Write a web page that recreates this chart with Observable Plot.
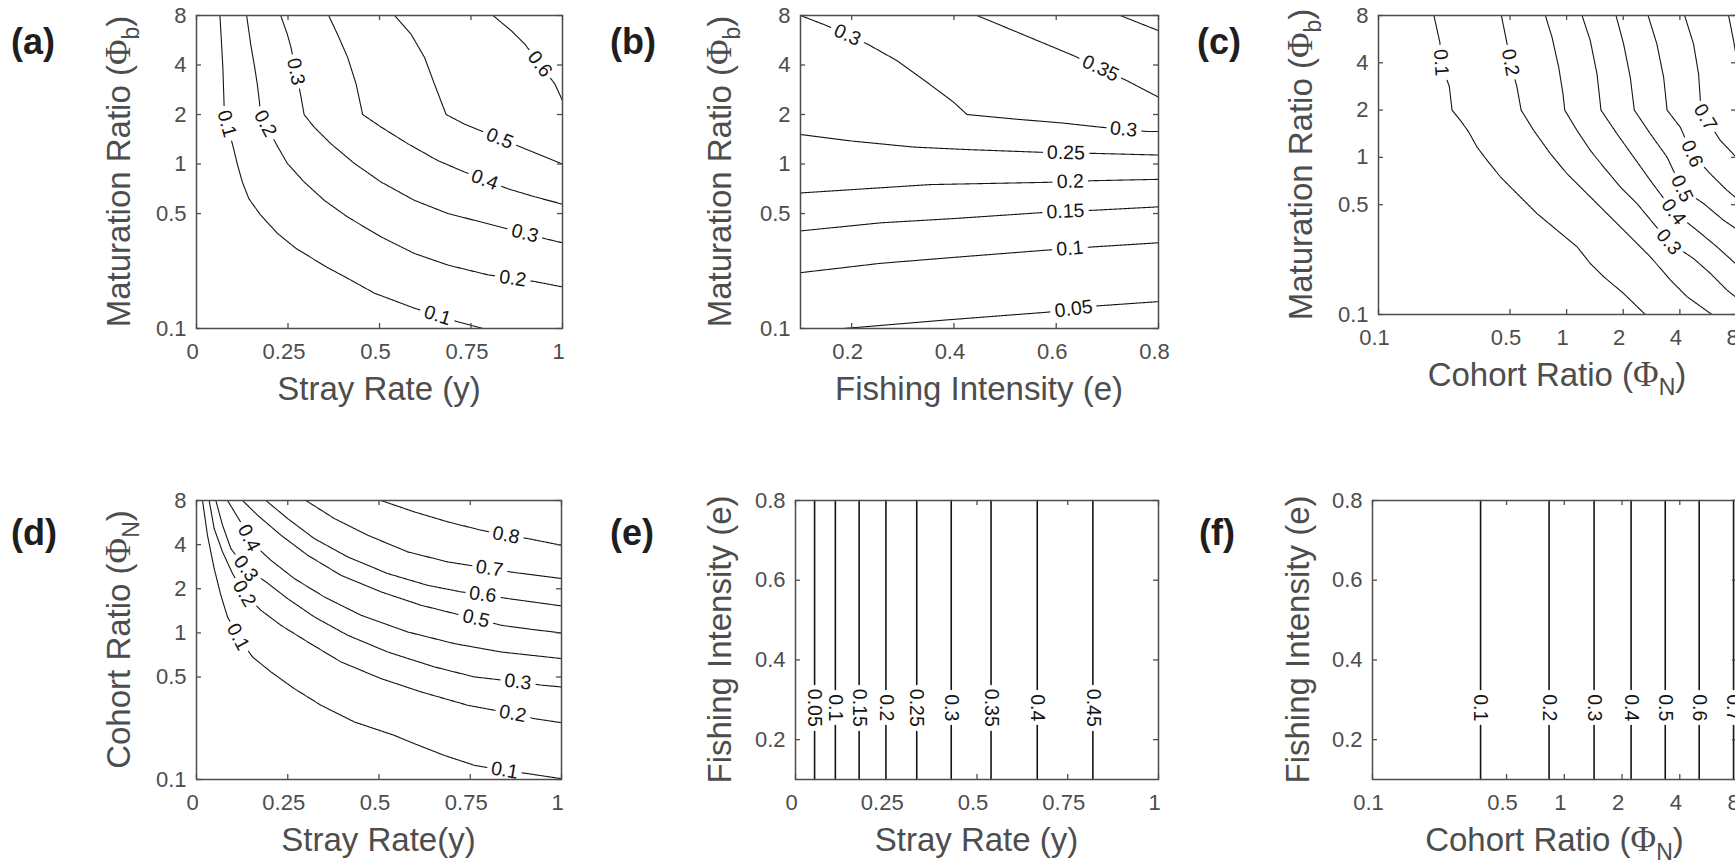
<!DOCTYPE html>
<html><head><meta charset="utf-8">
<script src="https://cdn.jsdelivr.net/npm/d3@7"></script>
<script src="https://cdn.jsdelivr.net/npm/@observablehq/plot@0.6"></script>
<style>
html,body{margin:0;padding:0;background:#fff;overflow:hidden;width:1735px;height:867px;}
#root{position:relative;width:1735px;height:867px;overflow:hidden;}
.panel{position:absolute;}
.panel svg{max-width:none !important;}
</style></head><body><div id="root"></div>
<script>
// ---------- DATA ----------
const logTicks = [0.1, 0.5, 1, 2, 4, 8];
const strayTicks = [0, 0.25, 0.5, 0.75, 1];
const fishTicksB = [0.2, 0.4, 0.6, 0.8];
const fishTicksEF = [0.2, 0.4, 0.6, 0.8];

// (a) Stray rate (x) vs maturation ratio (y)
const contoursA = [
  {level: 0.1, points: [[0.064,8],[0.068,5.62],[0.072,3.87],[0.075,2.43],[0.076,2],[0.0995,1.29],[0.111,1.01],[0.125,0.78],[0.143,0.616],[0.175,0.49],[0.221,0.379],[0.271,0.308],[0.353,0.238],[0.404,0.207],[0.486,0.164],[0.595,0.133],[0.719,0.109],[0.783,0.1]]},
  {level: 0.2, points: [[0.137,8],[0.148,5.36],[0.159,3.87],[0.166,3.07],[0.172,2.38],[0.175,2],[0.218,1.32],[0.248,1.01],[0.294,0.778],[0.349,0.602],[0.413,0.476],[0.504,0.361],[0.595,0.286],[0.687,0.243],[0.796,0.212],[0.924,0.193],[1,0.179]]},
  {level: 0.3, points: [[0.230,8],[0.248,6.17],[0.258,5.13],[0.285,2.60],[0.294,2],[0.321,1.68],[0.367,1.33],[0.431,1.01],[0.504,0.778],[0.595,0.602],[0.687,0.5],[0.778,0.444],[0.961,0.348],[1,0.332]]},
  {level: 0.4, points: [[0.361,8],[0.385,6.17],[0.413,4.45],[0.436,3.07],[0.454,2],[0.504,1.68],[0.577,1.33],[0.659,1.05],[0.732,0.895],[0.851,0.707],[0.924,0.632],[1,0.57]]},
  {level: 0.5, points: [[0.541,8],[0.586,6.17],[0.623,4.45],[0.650,3.07],[0.682,2],[0.732,1.75],[0.897,1.24],[1,1.0]]},
  {level: 0.6, points: [[0.810,8],[0.860,6.47],[0.897,5.36],[0.979,3.07],[1,2.43]]}
];
const labelsA = [
  {level: 0.1, x: 0.08, y: 1.75}, {level: 0.1, x: 0.658, y: 0.119},
  {level: 0.2, x: 0.183, y: 1.74}, {level: 0.2, x: 0.865, y: 0.207},
  {level: 0.3, x: 0.262, y: 3.61}, {level: 0.3, x: 0.897, y: 0.375},
  {level: 0.4, x: 0.787, y: 0.796}, {level: 0.5, x: 0.828, y: 1.42},
  {level: 0.6, x: 0.932, y: 3.96}
];

// (b) Fishing intensity (x) vs maturation ratio (y)
const contoursB = [
  {level: 0.05, points: [[0.1847,0.1],[0.3865,0.1128],[0.5819,0.1256],[0.6795,0.1372],[0.8,0.1457]]},
  {level: 0.1, points: [[0.1,0.2185],[0.2563,0.249],[0.3995,0.2706],[0.5819,0.2997],[0.676,0.314],[0.8,0.332]]},
  {level: 0.15, points: [[0.1,0.392],[0.2563,0.439],[0.3995,0.466],[0.5819,0.509],[0.676,0.524],[0.8,0.549]]},
  {level: 0.2, points: [[0.1,0.667],[0.354,0.75],[0.5819,0.774],[0.673,0.792],[0.8,0.807]]},
  {level: 0.25, points: [[0.1,1.512],[0.201,1.379],[0.3214,1.268],[0.419,1.227],[0.5753,1.177],[0.673,1.161],[0.8,1.134]]},
  {level: 0.3, points: [[0.1,8],[0.152,6.93],[0.2335,5.31],[0.2888,4.25],[0.3474,3.14],[0.3995,2.375],[0.4256,2],[0.5167,1.88],[0.6144,1.773],[0.686,1.676],[0.777,1.578],[0.8,1.578]]},
  {level: 0.35, points: [[0.4451,8],[0.5167,6.47],[0.634,4.56],[0.738,3.215],[0.8,2.55]]},
  {level: 0.4, points: [[0.7251,8],[0.8,6.47]]}
];
const labelsB = [
  {level: 0.05, x: 0.634, y: 0.131}, {level: 0.1, x: 0.627, y: 0.30},
  {level: 0.15, x: 0.618, y: 0.512}, {level: 0.2, x: 0.6275, y: 0.774},
  {level: 0.25, x: 0.619, y: 1.157}, {level: 0.3, x: 0.191, y: 6.02},
  {level: 0.3, x: 0.7316, y: 1.6}, {level: 0.35, x: 0.686, y: 3.78}
];

// (c) Cohort ratio (x) vs maturation ratio (y)
const contoursC = [
  {level: 0.1, points: [[0.197,8],[0.212,5.39],[0.215,4.0],[0.238,2.82],[0.246,2],[0.273,1.716],[0.302,1.447],[0.334,1.163],[0.378,0.957],[0.445,0.75],[0.545,0.588],[0.696,0.439],[0.889,0.344],[1.136,0.27],[1.337,0.211],[1.574,0.174],[2.01,0.136],[2.62,0.1]]},
  {level: 0.2, points: [[0.45,8],[0.479,5.52],[0.503,4.02],[0.545,2.79],[0.573,2],[0.669,1.483],[0.82,1.055],[1.005,0.787],[1.233,0.617],[1.574,0.461],[2.094,0.328],[2.786,0.233],[3.558,0.166],[4.36,0.13],[5.92,0.1]]},
  {level: 0.3, points: [[0.771,8],[0.837,5.80],[0.908,3.74],[0.957,2.53],[0.977,2],[1.136,1.483],[1.337,1.107],[1.574,0.868],[1.93,0.648],[2.367,0.508],[2.90,0.379],[3.49,0.29],[4.73,0.227],[5.80,0.183],[7.12,0.143],[8,0.128]]},
  {level: 0.4, points: [[1.208,8],[1.337,5.52],[1.451,3.39],[1.523,2],[1.853,1.413],[2.272,1.004],[2.786,0.714],[3.706,0.45],[4.93,0.344],[6.29,0.27],[8,0.208]]},
  {level: 0.5, points: [[1.83,8],[2.01,5.26],[2.18,3.23],[2.29,2],[2.786,1.413],[3.42,1.004],[4.10,0.632],[5.35,0.508],[6.83,0.398],[8,0.35]]},
  {level: 0.6, points: [[2.71,8],[3.02,5.26],[3.28,3.23],[3.42,2],[4.02,1.557],[4.64,1.055],[5.80,0.787],[7.12,0.617],[8,0.55]]},
  {level: 0.7, points: [[4.24,8],[4.73,5.26],[5.03,3.39],[5.18,2],[5.46,1.80],[6.56,1.282],[8,1.0]]},
  {level: 0.8, points: [[7.26,8],[7.72,5.52],[8,4.3]]}
];
const labelsC = [
  {level: 0.1, x: 0.215, y: 4.0}, {level: 0.2, x: 0.503, y: 4.02},
  {level: 0.3, x: 3.49, y: 0.29}, {level: 0.4, x: 3.706, y: 0.45},
  {level: 0.5, x: 4.10, y: 0.632}, {level: 0.6, x: 4.64, y: 1.055},
  {level: 0.7, x: 5.46, y: 1.80}
];

// (d) Stray rate (x) vs cohort ratio (y)
const contoursD = [
  {level: 0.1, points: [[0.0165,8],[0.030,4.64],[0.0484,2.75],[0.0667,1.806],[0.085,1.286],[0.114,0.939],[0.1536,0.685],[0.2038,0.542],[0.2678,0.417],[0.341,0.321],[0.4324,0.247],[0.542,0.2],[0.597,0.1755],[0.679,0.146],[0.761,0.125],[0.844,0.1154],[0.908,0.1096],[1,0.1013]]},
  {level: 0.2, points: [[0.0347,8],[0.0484,5.15],[0.0713,3.57],[0.0987,2.54],[0.1307,1.855],[0.1764,1.427],[0.2313,1.127],[0.3044,0.868],[0.3958,0.634],[0.5055,0.488],[0.6152,0.396],[0.7431,0.321],[0.8665,0.281],[0.9259,0.26],[1,0.244]]},
  {level: 0.3, points: [[0.053,8],[0.0713,5.43],[0.0941,3.76],[0.1353,2.75],[0.1901,2.23],[0.2495,1.715],[0.3227,1.286],[0.4141,0.964],[0.5238,0.741],[0.6517,0.586],[0.7614,0.501],[0.8803,0.463],[0.9488,0.439],[1,0.428]]},
  {level: 0.4, points: [[0.085,8],[0.1261,5.43],[0.149,4.18],[0.2038,3.13],[0.2678,2.35],[0.3501,1.76],[0.4506,1.32],[0.5786,1.015],[0.7066,0.845],[0.8346,0.741],[1,0.668]]},
  {level: 0.5, points: [[0.1261,8],[0.1673,6.35],[0.2313,4.64],[0.3044,3.39],[0.3958,2.47],[0.5055,1.905],[0.6152,1.544],[0.7066,1.355],[0.766,1.252],[0.8346,1.127],[0.9168,1.058],[1,1.0]]},
  {level: 0.6, points: [[0.1901,8],[0.2495,6.03],[0.3227,4.40],[0.4141,3.30],[0.5238,2.54],[0.6335,2.11],[0.7249,1.905],[0.7843,1.826],[0.8528,1.715],[1,1.528]]},
  {level: 0.7, points: [[0.2998,8],[0.3775,6.03],[0.4689,4.64],[0.5786,3.57],[0.6883,3.05],[0.8026,2.75],[0.8711,2.58],[1,2.35]]},
  {level: 0.8, points: [[0.5055,8],[0.5969,6.69],[0.6883,5.72],[0.7797,5.02],[0.8483,4.64],[0.9077,4.40],[1,3.96]]}
];
const labelsD = [
  {level: 0.1, x: 0.114, y: 0.939}, {level: 0.1, x: 0.844, y: 0.1154},
  {level: 0.2, x: 0.1307, y: 1.855}, {level: 0.2, x: 0.8665, y: 0.281},
  {level: 0.3, x: 0.1353, y: 2.75}, {level: 0.3, x: 0.8803, y: 0.463},
  {level: 0.4, x: 0.14, y: 4.4}, {level: 0.5, x: 0.766, y: 1.252},
  {level: 0.6, x: 0.7843, y: 1.826}, {level: 0.7, x: 0.8026, y: 2.75},
  {level: 0.8, x: 0.8483, y: 4.64}
];

// (e) Stray rate (x) vs fishing intensity (y): vertical contours
const levelsE = [0.05, 0.1, 0.15, 0.2, 0.25, 0.3, 0.35, 0.4, 0.45];
const strayE = [0.0526, 0.1098, 0.1753, 0.2491, 0.334, 0.429, 0.5387, 0.666, 0.8192];
// (f) Cohort ratio (x) vs fishing intensity (y): vertical contours
const levelsF = [0.1, 0.2, 0.3, 0.4, 0.5, 0.6, 0.7];
const cohortF = [0.366, 0.833, 1.43, 2.23, 3.36, 5.05, 7.63];
const labelFishing = 0.28; // fishing intensity where the labels of (e) and (f) sit

// ---------- LAYOUT ----------
const FONT = "'Liberation Sans', Arial, Helvetica, sans-serif";
const GREY = "#4d4d4d";
const root = document.getElementById("root");

function textWidth(s, fs) {
  let w = 0;
  for (const ch of s) w += (ch === "." ? 0.278 : 0.556);
  return w * fs;
}

function panel(box, xType, xDomain, yType, yDomain, xTicks, yTicks, contours, labels, lineWidth) {
  const mL = 70, mR = 12, mT = 12, mB = 45;
  const W = box.right - box.left, H = box.bottom - box.top;
  const width = W + mL + mR, height = H + mT + mB;
  const xs = (xType === "log" ? d3.scaleLog() : d3.scaleLinear()).domain(xDomain).range([mL, mL + W]);
  const ys = (yType === "log" ? d3.scaleLog() : d3.scaleLinear()).domain(yDomain).range([mT + H, mT]);
  const LFS = 19.5;

  // snap labels to their contour, derive angle from the local direction of the contour
  const labelRows = labels.map(l => {
    const px = xs(l.x), py = ys(l.y);
    let best = Infinity, ang = 0, sx = px, sy = py;
    contours.filter(c => c.level === l.level).forEach(c => {
      for (let k = 0; k < c.points.length - 1; k++) {
        const ax = xs(c.points[k][0]), ay = ys(c.points[k][1]);
        const bx = xs(c.points[k + 1][0]), by = ys(c.points[k + 1][1]);
        const dx = bx - ax, dy = by - ay, L2 = dx * dx + dy * dy;
        let t = L2 ? ((px - ax) * dx + (py - ay) * dy) / L2 : 0;
        t = Math.max(0, Math.min(1, t));
        const qx = ax + t * dx, qy = ay + t * dy, dist = Math.hypot(px - qx, py - qy);
        if (dist < best) {
          best = dist; sx = qx; sy = qy;
          let a = Math.atan2(dy, dx) * 180 / Math.PI;
          if (a > 90) a -= 180;
          if (a <= -90) a += 180;
          ang = a;
        }
      }
    });
    const text = String(l.level);
    return {level: l.level, text, px: sx, py: sy, x: xs.invert(sx), y: ys.invert(sy), angle: ang, r: textWidth(text, LFS) / 2 + 4};
  });

  // break the contour lines where their labels sit
  const rows = []; let id = 0;
  contours.forEach(c => {
    const cs = labelRows.filter(k => k.level === c.level);
    let run = [];
    const flush = () => {
      if (run.length > 1) { run.forEach(p => rows.push({id, x: xs.invert(p[0]), y: ys.invert(p[1])})); id++; }
      run = [];
    };
    const P = c.points.map(([x, y]) => [xs(x), ys(y)]);
    for (let k = 0; k < P.length - 1; k++) {
      const [ax, ay] = P[k], [bx, by] = P[k + 1];
      const n = Math.max(1, Math.ceil(Math.hypot(bx - ax, by - ay)));
      for (let s = (k === 0 ? 0 : 1); s <= n; s++) {
        const t = s / n, qx = ax + t * (bx - ax), qy = ay + t * (by - ay);
        if (cs.some(q => Math.hypot(qx - q.px, qy - q.py) < q.r)) flush();
        else run.push([qx, qy]);
      }
    }
    flush();
  });

  const plot = Plot.plot({
    width, height, marginLeft: mL, marginRight: mR, marginTop: mT, marginBottom: mB,
    style: {fontFamily: FONT, background: "transparent", overflow: "visible", maxWidth: "none"},
    x: {type: xType, domain: xDomain, axis: null},
    y: {type: yType, domain: yDomain, axis: null},
    marks: [
      Plot.line(rows, {x: "x", y: "y", z: "id", stroke: "#151515", strokeWidth: lineWidth}),
      Plot.text(labelRows, {x: "x", y: "y", text: "text", rotate: "angle", fontSize: LFS, fill: "#151515", fontFamily: FONT}),
      Plot.frame({stroke: GREY, strokeWidth: 1.5}),
      Plot.tickX(xTicks, {x: d => d, insetTop: H - 5, stroke: GREY, strokeWidth: 1.3}),
      Plot.tickX(xTicks, {x: d => d, insetBottom: H - 5, stroke: GREY, strokeWidth: 1.3}),
      Plot.tickY(yTicks, {y: d => d, insetRight: W - 5, stroke: GREY, strokeWidth: 1.3}),
      Plot.tickY(yTicks, {y: d => d, insetLeft: W - 5, stroke: GREY, strokeWidth: 1.3}),
      Plot.text(xTicks, {x: d => d, text: d => String(d), frameAnchor: "bottom", lineAnchor: "top", dy: 15, dx: -4, fontSize: 22, fill: GREY, fontFamily: FONT}),
      Plot.text(yTicks, {y: d => d, text: d => String(d), frameAnchor: "left", textAnchor: "end", dx: -10, fontSize: 22, fill: GREY, fontFamily: FONT})
    ]
  });
  plot.style.maxWidth = "none";
  const wrap = document.createElement("div");
  wrap.className = "panel";
  wrap.style.left = (box.left - mL) + "px";
  wrap.style.top = (box.top - mT) + "px";
  wrap.style.width = width + "px";
  wrap.style.height = height + "px";
  wrap.appendChild(plot);
  root.appendChild(wrap);
}

const boxA = {left: 196, right: 562, top: 15, bottom: 328};
const boxB = {left: 800, right: 1158, top: 15, bottom: 328};
const boxC = {left: 1378, right: 1736, top: 15, bottom: 314};
const boxD = {left: 196, right: 561, top: 500, bottom: 779};
const boxE = {left: 795, right: 1158, top: 500, bottom: 779};
const boxF = {left: 1372, right: 1737, top: 500, bottom: 779};

panel(boxA, "linear", [0, 1], "log", [0.1, 8], strayTicks, logTicks, contoursA, labelsA, 1.1);
panel(boxB, "linear", [0.1, 0.8], "log", [0.1, 8], fishTicksB, logTicks, contoursB, labelsB, 1.1);
panel(boxC, "log", [0.1, 8], "log", [0.1, 8], logTicks, logTicks, contoursC, labelsC, 1.1);
panel(boxD, "linear", [0, 1], "log", [0.1, 8], strayTicks, logTicks, contoursD, labelsD, 1.1);
panel(boxE, "linear", [0, 1], "linear", [0.1, 0.8], strayTicks, fishTicksEF,
  levelsE.map((lv, i) => ({level: lv, points: [[strayE[i], 0.1], [strayE[i], 0.8]]})),
  levelsE.map((lv, i) => ({level: lv, x: strayE[i], y: labelFishing})), 1.6);
panel(boxF, "log", [0.1, 8], "linear", [0.1, 0.8], logTicks, fishTicksEF,
  levelsF.map((lv, i) => ({level: lv, points: [[cohortF[i], 0.1], [cohortF[i], 0.8]]})),
  levelsF.map((lv, i) => ({level: lv, x: cohortF[i], y: labelFishing})), 1.6);

// ---------- TEXT OVERLAY: panel letters and axis titles ----------
const svg = d3.select(root).append("svg")
  .attr("width", 1735).attr("height", 867)
  .style("position", "absolute").style("left", 0).style("top", 0)
  .style("pointer-events", "none");

const letters = [["(a)", 11, 54], ["(b)", 610, 54], ["(c)", 1197, 54], ["(d)", 11, 545], ["(e)", 610, 545], ["(f)", 1199, 545]];
letters.forEach(([t, x, y]) => svg.append("text").attr("x", x).attr("y", y).text(t)
  .attr("font-family", "'Liberation Sans', Arial, sans-serif").attr("font-weight", "bold")
  .attr("font-size", 36).attr("fill", "#1e1e1e"));

function title(parts, x, y, rotate) {
  const t = svg.append("text")
    .attr("transform", `translate(${x},${y})` + (rotate ? " rotate(-90)" : ""))
    .attr("text-anchor", "middle").attr("font-family", FONT).attr("font-size", 33).attr("fill", GREY);
  let shifted = false;
  parts.forEach(p => {
    const s = t.append("tspan").text(p.t);
    if (p.serif) s.attr("font-family", "'Liberation Serif', 'Times New Roman', serif").attr("font-size", 35);
    if (p.sub) { s.attr("font-size", 23).attr("dy", 9); shifted = true; }
    else if (shifted) { s.attr("dy", -9); shifted = false; }
  });
}
const phiB = [{t: "Maturation Ratio ("}, {t: "Φ", serif: true}, {t: "b", sub: true}, {t: ")"}];
const phiNx = [{t: "Cohort Ratio ("}, {t: "Φ", serif: true}, {t: "N", sub: true}, {t: ")"}];
const fishT = [{t: "Fishing Intensity (e)"}];

title([{t: "Stray Rate (y)"}], (boxA.left + boxA.right) / 2, boxA.bottom + 72, false);
title(fishT, (boxB.left + boxB.right) / 2, boxB.bottom + 72, false);
title(phiNx, (boxC.left + boxC.right) / 2, boxC.bottom + 72, false);
title([{t: "Stray Rate(y)"}], (boxD.left + boxD.right) / 2, boxD.bottom + 72, false);
title([{t: "Stray Rate (y)"}], (boxE.left + boxE.right) / 2, boxE.bottom + 72, false);
title(phiNx, (boxF.left + boxF.right) / 2, boxF.bottom + 72, false);

title(phiB, 129.5, (boxA.top + boxA.bottom) / 2, true);
title(phiB, 731, (boxB.top + boxB.bottom) / 2, true);
title(phiB, 1312, (boxC.top + boxC.bottom) / 2, true);
title(phiNx, 129.5, (boxD.top + boxD.bottom) / 2, true);
title(fishT, 731, (boxE.top + boxE.bottom) / 2, true);
title(fishT, 1308.5, (boxF.top + boxF.bottom) / 2, true);
</script></body></html>
